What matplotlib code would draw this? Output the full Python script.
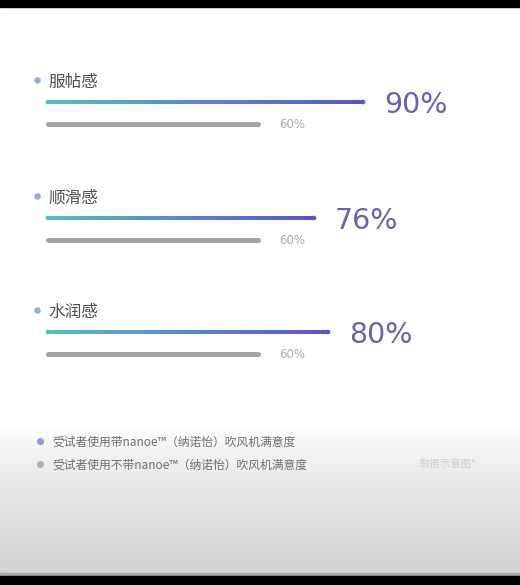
import numpy as np
import matplotlib.pyplot as plt

plt.rcParams['font.family'] = ['Noto Sans CJK SC', 'DejaVu Sans']

categories = ['服帖感', '顺滑感', '水润感']
with_nanoe = [90, 76, 80]
without_nanoe = [60, 60, 60]
legend_labels = ['受试者使用带nanoe™（纳诺怡）吹风机满意度',
                 '受试者使用不带nanoe™（纳诺怡）吹风机满意度']
note = '数据示意图*'

W, H = 520, 585
fig = plt.figure(figsize=(W / 100, H / 100), dpi=100)

# background: white top, grey gradient at the bottom, black bands
bg = fig.add_axes([0, 0, 1, 1])
bg.set_xlim(0, W)
bg.set_ylim(H, 0)
bg.axis('off')
rows = np.arange(H)
t = np.clip((rows - 425) / (574 - 425), 0, 1)
shade = 1.0 - 0.18 * t ** 0.8
img = np.repeat(shade[:, None], 2, axis=1)
bg.imshow(np.dstack([img, img, img]), extent=[0, W, H, 0], aspect='auto', interpolation='bilinear')
bg.axhspan(0, 7, color='black')
bg.axhspan(573, 576, color='#a8a8a8')
bg.axhspan(576, H, color='black')

# main axes: x in percent (0% at px 48, 3.5 px per percent), y in px
px_per = 3.5
x0 = 48
ax = fig.add_axes([0, 0, 1, 1])
ax.patch.set_alpha(0)
ax.set_xlim(-x0 / px_per, (W - x0) / px_per)
ax.set_ylim(H, 0)
ax.axis('off')

row_y = [102, 218, 332]
c_start = np.array([0x58, 0xbc, 0xc6]) / 255
c_end = np.array([0x5a, 0x56, 0xc8]) / 255
gap = 21 / px_per
half = 1.8

for name, v1, v2, y in zip(categories, with_nanoe, without_nanoe, row_y):
    # label and dot
    ax.scatter([-11 / px_per], [y - 22], s=22, color='#8fb0dc', zorder=3, linewidths=0)
    ax.text(0, y - 20, name, fontsize=12, color='#4f4f4f', va='center', ha='left')
    # gradient bar
    fr = np.linspace(0, 1, 200)[:, None]
    cols = c_start * (1 - fr) + c_end * fr
    ax.imshow(cols[None, :, :], extent=[0, v1, y + half, y - half], aspect='auto',
              interpolation='bilinear', zorder=2)
    ax.scatter([0, v1], [y, y], s=11, color=[cols[0], cols[-1]], zorder=2, linewidths=0)
    ax.text(v1 + gap, y + 3, f'{v1}%', fontsize=20.5, color='#6a63a9',
            va='center', ha='left', family='DejaVu Sans')
    # grey bar
    ax.plot([0, v2], [y + 22, y + 22], color='#a3a3a3', lw=3.6, solid_capstyle='round')
    ax.text(v2 + gap, y + 23, f'{v2}%', fontsize=8.5, color='#ababab',
            va='center', ha='left', family='DejaVu Sans')

ax.set_xlim(-x0 / px_per, (W - x0) / px_per)
ax.set_ylim(H, 0)

# legend
leg_y = [441, 464]
leg_cols = ['#8f9fd6', '#b0b0b0']
for lab, y, c in zip(legend_labels, leg_y, leg_cols):
    ax.scatter([-8 / px_per], [y], s=26, color=c, zorder=3, linewidths=0)
    ax.text(4 / px_per, y + 1, lab, fontsize=8.5, color='#6e6e6e', va='center', ha='left')
ax.text((420 - x0) / px_per, leg_y[1], note, fontsize=7.5, color='#cfcfcf', va='center', ha='left')

fig.savefig('out.png', dpi=100)
